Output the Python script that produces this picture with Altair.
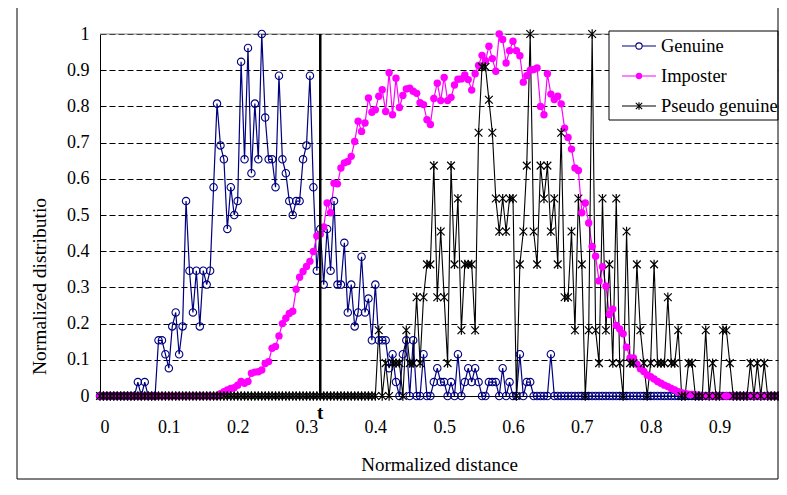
import altair as alt
import pandas as pd

# category axis: normalized distance, step 0.005
x_values = [round(i * 0.005, 3) for i in range(198)]

# Genuine: counts (value = count / 26)
genuine_counts = (
    [0] * 11
    + [1, 0, 1, 0, 0, 0]
    + [4, 4, 3, 2, 5, 6, 3, 5, 14, 9, 6]
    + [9, 5, 9, 8, 9, 15, 21, 18, 17, 12]
    + [15, 13, 14, 24, 17, 25, 16, 21, 17, 26]
    + [20, 17, 17, 15, 23, 17, 16, 14, 13, 14]
    + [14, 17, 18, 23, 15, 9, 12, 8, 12, 9]
    + [14, 8, 8, 11, 6, 8, 5, 6, 10, 6]
    + [7, 4, 8, 4, 4, 4, 2, 3, 1, 0]
    + [3, 4, 0, 4, 0, 0, 3, 0, 0, 1]
    + [2, 1, 1, 0, 1, 0, 3, 0, 1, 2]
    + [1, 2, 1, 0, 0, 1, 1, 1, 0, 2]
    + [0, 1, 0, 0, 3, 0, 1, 1, 0, 0]
    + [0, 0, 0, 3]
    + [0] * 66
)

imposter = (
    [0.0] * 35
    + [0.006, 0.012, 0.017, 0.021, 0.023, 0.030, 0.040, 0.035, 0.040, 0.063]
    + [0.066, 0.067, 0.072, 0.090, 0.095, 0.132, 0.137, 0.166, 0.200, 0.215]
    + [0.228, 0.234, 0.295, 0.328, 0.344, 0.358, 0.372, 0.399, 0.442, 0.447]
    + [0.467, 0.533, 0.506, 0.588, 0.586, 0.630, 0.644, 0.648, 0.662, 0.703]
    + [0.759, 0.731, 0.754, 0.823, 0.784, 0.791, 0.828, 0.846, 0.786, 0.893]
    + [0.777, 0.878, 0.797, 0.830, 0.848, 0.850, 0.842, 0.836, 0.810, 0.805]
    + [0.763, 0.750, 0.822, 0.864, 0.816, 0.880, 0.816, 0.825, 0.859, 0.875]
    + [0.876, 0.887, 0.874, 0.845, 0.890, 0.913, 0.941, 0.926, 0.966, 0.932]
    + [0.897, 1.000, 0.985, 0.920, 0.954, 0.980, 0.954, 0.940, 0.867, 0.885]
    + [0.900, 0.902, 0.906, 0.800, 0.777, 0.890, 0.834, 0.819, 0.828, 0.807]
    + [0.740, 0.714, 0.682, 0.630, 0.623, 0.506, 0.533, 0.478, 0.413, 0.386]
    + [0.318, 0.357, 0.303, 0.225, 0.240, 0.195, 0.185, 0.172, 0.135, 0.105]
    + [0.105, 0.088, 0.075, 0.068, 0.058, 0.053, 0.047, 0.040, 0.035, 0.030]
    + [0.026, 0.021, 0.017, 0.012, 0.009, 0.007, 0.005, 0.004, 0.003, 0.002]
    + [0.001]
    + [0.0] * 22
)

# Pseudo genuine: counts (value = count / 11)
pseudo_counts = (
    [0] * 81
    + [2, 0, 1, 0, 1, 1, 1, 0, 2, 1]
    + [1, 3, 1, 3, 4, 4, 7, 3, 5, 3]
    + [1, 7, 4, 6, 2, 4, 4, 4, 2, 8]
    + [10, 10, 9, 8, 6, 5, 6, 5, 6, 6]
    + [0, 4, 5, 7, 11, 5, 4, 7, 6, 7]
    + [5, 6, 4, 8, 3, 3, 5, 2, 6, 4]
    + [0, 2, 11, 2, 1, 6, 2, 4, 1, 6]
    + [1, 0, 5, 1, 1, 4, 2, 1, 0, 1]
    + [4, 1, 1, 1, 3, 1, 1, 2, 0, 0]
    + [1, 1, 0, 0, 0, 2, 0, 1, 0, 0]
    + [2, 2, 1, 0, 0, 0, 0, 0, 1, 0]
    + [1, 0, 1, 0, 0, 0, 0]
)

threshold_t = 0.32
series_names = ["Genuine", "Imposter", "Pseudo genuine"]
series_colors = ["#000080", "#FF00FF", "#000000"]
x_ticks = [0, 0.1, 0.2, 0.3, 0.4, 0.5, 0.6, 0.7, 0.8, 0.9]
y_ticks = [0, 0.1, 0.2, 0.3, 0.4, 0.5, 0.6, 0.7, 0.8, 0.9, 1]

genuine = [c / 26 for c in genuine_counts]
pseudo = [c / 11 for c in pseudo_counts]

FONT = "Liberation Serif"
STAR = "M-1,-1L1,1M1,-1L-1,1M0,-1.2L0,1.2"

W, H = 678, 362
x_scale = alt.Scale(domain=[0, 0.985], nice=False, zero=False)
y_scale = alt.Scale(domain=[0, 1], nice=False)

x_axis = alt.Axis(
    values=x_ticks, format="~g", grid=False, ticks=False, domain=True,
    domainColor="black", labelOverlap=False,
    labelFont=FONT, labelFontSize=18, labelColor="black", labelPadding=22,
    title="Normalized distance", titleFont=FONT, titleFontSize=19,
    titleFontWeight="normal", titleColor="black", titleY=68, titleBaseline="middle",
)
y_axis = alt.Axis(
    values=y_ticks, format="~g", grid=True, gridColor="black", gridDash=[6, 3],
    gridWidth=1, ticks=False, domain=True, domainColor="black", labelOverlap=False,
    labelFont=FONT, labelFontSize=18, labelColor="black", labelPadding=11,
    title="Normalized distributio", titleFont=FONT, titleFontSize=19.5,
    titleFontWeight="normal", titleColor="black", titleX=-61, titleY=252,
    titleAngle=-90, titleBaseline="middle",
)


def X(field="x"):
    return alt.X(f"{field}:Q", scale=x_scale, axis=x_axis)


def Y(field="y"):
    return alt.Y(f"{field}:Q", scale=y_scale, axis=y_axis)


def series_df(values):
    return pd.DataFrame({"x": x_values, "y": values})


gen_df = series_df(genuine)
imp_df = series_df(imposter)
pse_df = series_df(pseudo)

top_line = alt.Chart(pd.DataFrame({"y": [1]})).mark_rule(color="#888888", strokeWidth=1).encode(
    y=Y()
)

t_df = pd.DataFrame({"t": [threshold_t], "lab": ["t"]})
t_rule = alt.Chart(t_df).mark_rule(color="black", strokeWidth=2.5).encode(x=X("t"))
t_text = alt.Chart(t_df).mark_text(
    font=FONT, fontSize=19, fontWeight="bold", color="black", baseline="middle"
).encode(x=X("t"), y=alt.value(379), text="lab:N")


def line_layer(df, color, width=1.2):
    return alt.Chart(df).mark_line(color=color, strokeWidth=width).encode(x=X(), y=Y())


gen_line = line_layer(gen_df, series_colors[0])
gen_pts = alt.Chart(gen_df).mark_point(
    shape="circle", filled=False, color=series_colors[0], size=55, strokeWidth=1.1,
    fill="white", fillOpacity=0
).encode(x=X(), y=Y())

imp_line = line_layer(imp_df, series_colors[1])
imp_pts = alt.Chart(imp_df).mark_point(
    shape="circle", filled=True, color=series_colors[1], size=55, opacity=1
).encode(x=X(), y=Y())

pse_line = line_layer(pse_df, series_colors[2], 1.1)
pse_pts = alt.Chart(pse_df).mark_point(
    shape=STAR, filled=False, color=series_colors[2], size=60, strokeWidth=1.2, opacity=1
).encode(x=X(), y=Y())

# legend box (pixel layout relative to plot area)
one = pd.DataFrame({"a": [0]})
leg_box = alt.Chart(one).mark_rect(fill="white", stroke="black", strokeWidth=1).encode(
    x=alt.value(509), x2=alt.value(678), y=alt.value(-3), y2=alt.value(86)
)
legend_layers = [leg_box]
rows_y = [12, 42, 72]
shapes = ["circle", "circle", STAR]
filled = [False, True, False]
for name, col, shp, fl, ly in zip(series_names, series_colors, shapes, filled, rows_y):
    legend_layers.append(
        alt.Chart(one).mark_rule(color=col, strokeWidth=1.2).encode(
            x=alt.value(522), x2=alt.value(556), y=alt.value(ly)
        )
    )
    extra = {} if fl else {"fill": "white", "fillOpacity": 1 if shp == "circle" else 0}
    legend_layers.append(
        alt.Chart(one).mark_point(
            shape=shp, filled=fl, color=col, size=40, strokeWidth=1.1, opacity=1, **extra
        ).encode(x=alt.value(539), y=alt.value(ly))
    )
    legend_layers.append(
        alt.Chart(one).mark_text(
            font=FONT, fontSize=18.5, color="black", align="left", baseline="middle", text=name
        ).encode(x=alt.value(561), y=alt.value(ly))
    )

# chart-area border: left, bottom and right edges
frame_left = alt.Chart(one).mark_rule(color="black", strokeWidth=1).encode(
    x=alt.value(-83), y=alt.value(-26), y2=alt.value(445)
)
frame_bottom = alt.Chart(one).mark_rule(color="black", strokeWidth=1).encode(
    x=alt.value(-83), x2=alt.value(678), y=alt.value(445)
)
frame_right = alt.Chart(one).mark_rule(color="black", strokeWidth=1).encode(
    x=alt.value(678), y=alt.value(-26), y2=alt.value(445)
)

chart = alt.layer(
    top_line,
    gen_line, imp_line, pse_line, gen_pts, imp_pts, pse_pts,
    t_rule, t_text, *legend_layers, frame_left, frame_bottom, frame_right,
).properties(
    width=W, height=H,
    autosize=alt.AutoSizeParams(type="none"),
    padding={"left": 92, "top": 26, "right": 1, "bottom": 84},
).configure_view(stroke=None)

chart.save("out.html", embed_options={"renderer": "svg", "actions": False})
